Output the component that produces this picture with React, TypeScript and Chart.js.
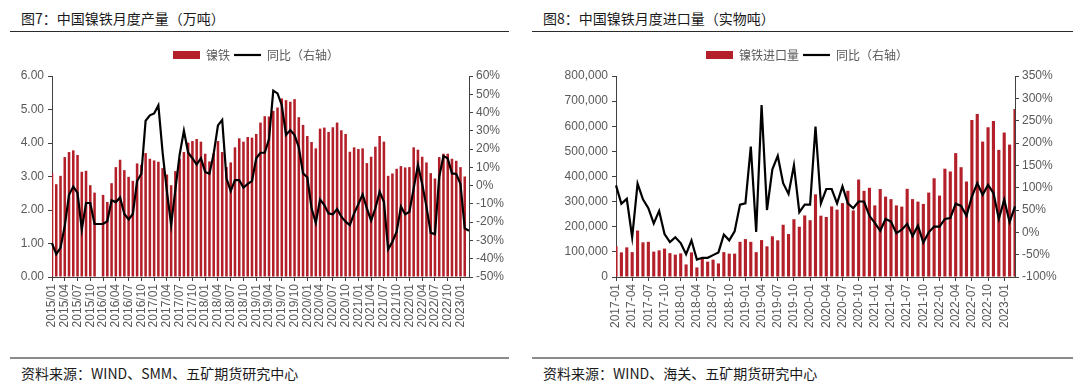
import React, { useEffect, useRef } from 'react';
import { Chart, registerables } from 'chart.js';

Chart.register(...registerables);

const FONT_CJK = '"Noto Sans CJK SC", "Noto Sans", sans-serif';
const FONT_TICK = '"Liberation Sans", "Noto Sans CJK SC", sans-serif';
const RED = '#B3202A';
const AXIS = '#404040';
const TICK = '#595959';

function monthLabels(startYear: number, startMonth: number, count: number, sep: string): string[] {
  const out: string[] = [];
  for (let i = 0; i < count; i++) {
    const m = startMonth - 1 + i;
    const y = startYear + Math.floor(m / 12);
    const mm = (m % 12) + 1;
    out.push(`${y}${sep}${mm < 10 ? '0' + mm : mm}`);
  }
  return out;
}

// ---------- Figure 7: China NPI monthly output (10kt) ----------
const productionMonths = monthLabels(2015, 1, 99, '/');
const productionOutput = [
  3.10, 2.77, 3.02, 3.58, 3.73, 3.78, 3.64, 3.14, 3.17, 2.74,
  2.52, null, 2.45, 2.24, 2.80, 3.28, 3.50, 3.19, 2.99, 2.87,
  3.39, 3.35, 3.70, 3.53, 3.48, 3.44, 3.25, 3.06, 2.74, 3.16,
  3.53, 3.73, 4.01, 4.06, 4.12, 4.04, 3.68, 3.45, 3.70, 4.06,
  3.73, 3.28, 3.42, 3.87, 4.14, 4.04, 4.18, 4.16, 4.27, 4.61,
  4.80, 4.79, 4.96, 5.06, 5.33, 5.28, 5.23, 5.31, 4.77, 4.54,
  4.21, 4.03, 3.84, 4.43, 4.46, 4.33, 4.47, 4.61, 4.38, 4.27,
  3.74, 3.87, 3.82, 3.84, 3.40, 3.59, 3.89, 4.21, 4.04, 3.02,
  3.09, 3.23, 3.31, 3.27, 3.28, 3.87, 3.80, 3.59, 3.42, 3.10,
  2.94, 3.58, 3.68, 3.68, 3.53, 3.47, 3.28, 3.00, null,
];
const productionYoY = [
  -31.5, -37.5, -34, -22, -5, -0.5, -4, -24, -9.5, -9.5,
  -21, -21, -21, -19.5, -8, -9, -6.5, -15.5, -18.5, -15.5,
  2.5, 6.5, 35.5, 38.5, 39.5, 44, 18, -3, -21.5, -2,
  17, 30, 18, 15, 11.5, 15, 7.5, 6.5, 17.5, 33,
  36, 4, -3, 3, 3, -1, 1, 2.5, 15, 18,
  18, 25.5, 52, 50.5, 44, 27.7, 30.4, 27.7, 21, 6.7,
  4.6, -12.4, -20.3, -7.5, -10.6, -15.2, -15.7, -12.8, -17, -19.7,
  -21.6, -15.2, -10.1, -4.8, -12.4, -19.2, -12.4, -3.3, -8.8, -34.9,
  -30.7, -25.2, -11.5, -15.7, -14.3, -1.5, 11.3, 0.9, -11.5, -25.8,
  -26.5, 4.9, 16.2, 14.9, 6.7, 6.4, 0.9, -23.4, -24.7,
];

// ---------- Figure 8: China NPI monthly imports (physical tonnes) ----------
const importMonths = monthLabels(2017, 1, 75, '-');
const importTonnes = [
  122000, 98000, 118000, 99000, 185000, 138000, 140000, 101000, 106000, 113000,
  95000, 89000, 94000, 50000, 98000, 38000, 73000, 61000, 69000, 54000,
  99000, 93000, 93000, 140000, 151000, 140000, 99000, 147000, 122000, 162000,
  146000, 208000, 171000, 230000, 200000, 245000, 226000, 329000, 244000, 239000,
  281000, 268000, 294000, 343000, 265000, 388000, 343000, 355000, 285000, 350000,
  320000, 310000, 285000, 280000, 351000, 310000, 300000, 291000, 336000, 393000,
  324000, 431000, 420000, 493000, 437000, 380000, 625000, 649000, 539000, 596000,
  621000, 506000, 575000, 527000, 669000,
];
const importYoY = [
  105, 64, 75, -11, 109, 74, 54, 20, 48, -4,
  -22, -11, -24, -49, -18, -61, -57, -57, -51, -45,
  -5, -18, 2, 62, 65, 192, 1, 285, 50, 141,
  171, 110, 86, 150, 45, 62, 62, 237, 65, 97,
  97, 65, 103, 65, 54, 69, 69, 37, 21, 3.5,
  30, 24, -2, 6, 19, -8, 15, -23, 0, 13,
  13, 30, 32, 64, 59, 37, 80, 110, 84, 106,
  88, 30, 73, 23, 58,
];

const legendGap = (extra: number) => ({
  id: 'legendGap',
  beforeInit(chart: any) {
    const orig = chart.legend.fit;
    chart.legend.fit = function () {
      orig.call(this);
      this.height += extra;
    };
  },
});

type ChartSpec = {
  labels: string[];
  bars: (number | null)[];
  line: (number | null)[];
  barLabel: string;
  lineLabel: string;
  yMin: number;
  yMax: number;
  yStep: number;
  yFmt: (v: number) => string;
  y1Min: number;
  y1Max: number;
  y1Step: number;
  yWidth: number;
  y1Width: number;
  padRight: number;
  barPct: number;
};

function buildChart(canvas: HTMLCanvasElement, s: ChartSpec) {
  const tickFont = { size: 12, family: FONT_TICK };
  return new Chart(canvas, {
    type: 'bar',
    data: {
      labels: s.labels,
      datasets: [
        {
          type: 'bar',
          label: s.barLabel,
          data: s.bars,
          yAxisID: 'y',
          backgroundColor: RED,
          borderColor: RED,
          borderWidth: 0,
          barPercentage: s.barPct,
          categoryPercentage: 1,
          order: 1,
          pointStyle: 'rect',
        } as any,
        {
          type: 'line',
          label: s.lineLabel,
          data: s.line,
          yAxisID: 'y1',
          borderColor: '#000000',
          backgroundColor: '#000000',
          borderWidth: 2.2,
          pointRadius: 0,
          pointHoverRadius: 0,
          tension: 0,
          spanGaps: true,
          order: 0,
          pointStyle: 'line',
        } as any,
      ],
    },
    options: {
      responsive: false,
      animation: false,
      devicePixelRatio: 1,
      layout: { padding: { left: 0, right: s.padRight, top: 0, bottom: 0 } },
      plugins: {
        legend: {
          display: true,
          position: 'top',
          align: 'center',
          labels: {
            usePointStyle: true,
            pointStyleWidth: 27,
            boxHeight: 8,
            padding: 4,
            color: TICK,
            font: { size: 12, family: FONT_CJK },
            sort: (a: any, b: any) => a.datasetIndex - b.datasetIndex,
          },
        },
        tooltip: { enabled: false },
      },
      scales: {
        x: {
          type: 'category',
          offset: false,
          grid: {
            display: true,
            offset: false,
            drawOnChartArea: false,
            drawTicks: true,
            tickLength: 4,
            color: AXIS,
            lineWidth: 1,
          },
          border: { display: true, color: AXIS, width: 1 },
          ticks: {
            autoSkip: false,
            minRotation: 90,
            maxRotation: 90,
            padding: 3,
            color: TICK,
            font: tickFont,
          },
          afterBuildTicks: (scale: any) => {
            scale.ticks = scale.ticks.filter((t: any) => t.value % 3 === 0);
          },
          afterFit: (scale: any) => {
            scale.height = 60;
          },
        },
        y: {
          position: 'left',
          min: s.yMin,
          max: s.yMax,
          grid: { display: true, drawOnChartArea: false, drawTicks: true, tickLength: 4, color: AXIS },
          border: { display: true, color: AXIS, width: 1 },
          ticks: {
            stepSize: s.yStep,
            padding: 4,
            color: TICK,
            font: tickFont,
            callback: (v: any) => s.yFmt(Number(v)),
          },
          afterFit: (scale: any) => {
            scale.width = s.yWidth;
          },
        },
        y1: {
          position: 'right',
          min: s.y1Min,
          max: s.y1Max,
          grid: { display: true, drawOnChartArea: false, drawTicks: true, tickLength: 4, color: AXIS },
          border: { display: true, color: AXIS, width: 1 },
          ticks: {
            stepSize: s.y1Step,
            padding: 3,
            color: TICK,
            font: tickFont,
            callback: (v: any) => `${v}%`,
          },
          afterFit: (scale: any) => {
            scale.width = s.y1Width;
          },
        },
      },
    } as any,
    plugins: [legendGap(5)],
  });
}

const titleStyle: React.CSSProperties = {
  position: 'absolute',
  top: 8,
  fontSize: 14,
  lineHeight: '20px',
  color: '#1a1a1a',
  fontFamily: FONT_CJK,
  whiteSpace: 'nowrap',
};

export default function App() {
  const leftRef = useRef<HTMLCanvasElement | null>(null);
  const rightRef = useRef<HTMLCanvasElement | null>(null);

  useEffect(() => {
    const charts: Chart[] = [];
    if (leftRef.current) {
      charts.push(
        buildChart(leftRef.current, {
          labels: productionMonths,
          bars: productionOutput,
          line: productionYoY,
          barLabel: '镍铁',
          lineLabel: '同比（右轴）',
          yMin: 0,
          yMax: 6,
          yStep: 1,
          yFmt: (v) => v.toFixed(2),
          y1Min: -50,
          y1Max: 60,
          y1Step: 10,
          yWidth: 52,
          y1Width: 43,
          padRight: 28,
          barPct: 0.6,
        })
      );
    }
    if (rightRef.current) {
      charts.push(
        buildChart(rightRef.current, {
          labels: importMonths,
          bars: importTonnes,
          line: importYoY,
          barLabel: '镍铁进口量',
          lineLabel: '同比（右轴）',
          yMin: 0,
          yMax: 800000,
          yStep: 100000,
          yFmt: (v) => v.toLocaleString('en-US'),
          y1Min: -100,
          y1Max: 350,
          y1Step: 50,
          yWidth: 76,
          y1Width: 59,
          padRight: 6,
          barPct: 0.58,
        })
      );
    }
    return () => charts.forEach((c) => c.destroy());
  }, []);

  return (
    <div
      style={{
        position: 'fixed',
        left: 0,
        top: 0,
        width: 1080,
        height: 382,
        background: '#ffffff',
        overflow: 'hidden',
      }}
    >
      <div style={{ ...titleStyle, left: 21 }}>图7：中国镍铁月度产量（万吨）</div>
      <div style={{ position: 'absolute', left: 10, top: 31, width: 499, height: 1, background: '#2b2b2b' }} />
      <canvas
        ref={leftRef}
        width={540}
        height={292}
        style={{ position: 'absolute', left: 0, top: 45, width: 540, height: 292 }}
      />
      <div style={{ position: 'absolute', left: 10, top: 357, width: 499, height: 2, background: '#8c8c8c' }} />
      <div style={{ ...titleStyle, left: 21, top: 363 }}>资料来源：WIND、SMM、五矿期货研究中心</div>

      <div style={{ ...titleStyle, left: 543 }}>图8：中国镍铁月度进口量（实物吨）</div>
      <div style={{ position: 'absolute', left: 532, top: 31, width: 541, height: 1, background: '#2b2b2b' }} />
      <canvas
        ref={rightRef}
        width={540}
        height={292}
        style={{ position: 'absolute', left: 540, top: 45, width: 540, height: 292 }}
      />
      <div style={{ position: 'absolute', left: 532, top: 357, width: 541, height: 2, background: '#8c8c8c' }} />
      <div style={{ ...titleStyle, left: 543, top: 363 }}>资料来源：WIND、海关、五矿期货研究中心</div>
    </div>
  );
}
